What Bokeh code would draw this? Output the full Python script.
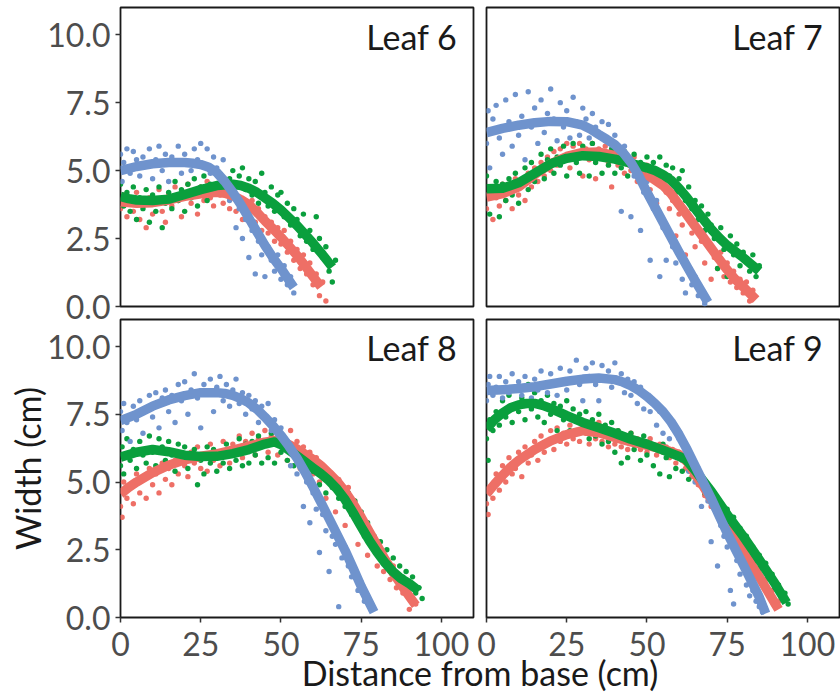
from bokeh.plotting import figure
from bokeh.layouts import column, row
from bokeh.models import FixedTicker, NumeralTickFormatter, Label, Range1d
from bokeh.embed import file_html
from bokeh.resources import INLINE

# ---------------- data ----------------
panel_names = ["Leaf 6", "Leaf 7", "Leaf 8", "Leaf 9"]
x_ticks = [0, 25, 50, 75, 100]
y_ticks = [0, 2.5, 5, 7.5, 10]
x_title = "Distance from base (cm)"
y_title = "Width (cm)"

# Leaf 6 scatter
l6_red_pts = [(0,3.6),(1,4.1),(2,3.3),(3,3.9),(4,3.5),(5,4.2),(6,3.2),(7,3.7),(8,2.9),(9,4.0),(10,3.4),(11,3.8),(12,4.3),(13,3.5),(14,3.1),(15,4.1),(16,3.7),(17,4.4),(18,3.9),(19,3.3),(20,4.2),(21,4.5),(22,3.8),(23,4.1),(24,3.4),(25,4.4),(26,3.9),(27,4.6),(28,4.0),(29,3.7),(30,4.3),(31,4.1),(32,3.8),(33,4.3),(34,3.6),(35,4.1),(36,3.5),(37,3.9),(38,3.2),(39,3.8),(40,3.4),(41,3.9),(42,3.1),(43,3.6),(44,2.8),(45,3.3),(46,2.7),(47,3.1),(48,2.4),(49,2.9),(50,2.3),(51,2.8),(52,2.0),(53,2.4),(54,1.7),(55,2.1),(56,1.4),(57,1.9),(58,1.2),(59,1.6),(60,0.8),(61,1.2),(62,0.4),(63,0.9),(64,0.2)]
l6_green_pts = [(0,4.5),(1,3.7),(2,4.2),(3,3.5),(4,4.4),(5,3.2),(6,4.0),(7,3.6),(8,4.3),(9,3.1),(10,4.1),(11,3.5),(12,4.4),(13,2.9),(14,3.8),(15,4.2),(16,3.6),(17,4.6),(18,3.9),(19,4.3),(20,3.5),(21,4.5),(22,4.0),(23,4.7),(24,3.7),(25,4.4),(26,4.8),(27,3.9),(28,4.5),(29,4.2),(30,4.9),(31,4.3),(32,4.6),(33,4.1),(34,4.7),(35,5.0),(36,4.4),(37,4.8),(38,5.1),(39,4.3),(40,4.7),(41,4.1),(42,4.6),(43,3.8),(44,4.9),(45,4.2),(46,3.7),(47,4.4),(48,3.5),(49,4.1),(50,4.2),(51,3.3),(52,3.8),(53,3.0),(54,3.6),(55,3.2),(56,2.6),(57,3.4),(58,2.4),(59,2.8),(60,2.1),(61,3.3),(62,2.5),(63,1.8),(64,2.2),(65,1.3),(66,0.9),(67,1.7)]
l6_blue_pts = [(0,5.6),(0.5,4.6),(1,5.3),(2,5.8),(3,4.9),(4,5.7),(5,5.4),(6,4.8),(7,5.5),(8,5.2),(9,5.8),(10,4.7),(11,5.4),(12,5.9),(13,5.0),(14,5.6),(15,4.6),(16,5.5),(17,5.3),(18,5.9),(19,4.9),(20,5.6),(21,5.3),(22,5.0),(23,5.8),(24,5.4),(25,6.0),(26,5.2),(27,5.8),(28,4.9),(29,5.5),(30,5.1),(31,4.4),(32,5.4),(33,4.5),(34,3.9),(35,4.4),(36,2.9),(37,3.6),(38,2.5),(39,3.2),(40,1.8),(41,2.8),(42,1.2),(43,2.4),(44,1.9),(45,1.1),(46,2.2),(47,1.7),(48,1.3),(49,1.9),(50,1.0),(51,1.5),(52,0.8),(53,1.1),(54,0.5)]
# Leaf 6 smooth fits
l6_red_fit = [(0,3.85),(5,3.8),(10,3.82),(15,3.92),(20,4.05),(25,4.15),(30,4.2),(32.5,4.17),(35,4.08),(37.5,3.93),(40,3.75),(42.5,3.47),(45,3.15),(47.5,2.86),(50,2.55),(52.5,2.22),(55,1.88),(57.5,1.5),(60,1.1),(62.5,0.72)]
l6_green_fit = [(0,4.05),(2.5,3.97),(5,3.92),(10,3.9),(15,3.95),(20,4.12),(25,4.3),(30,4.45),(35,4.5),(37.5,4.45),(40,4.35),(42.5,4.2),(45,4.0),(47.5,3.79),(50,3.55),(52.5,3.27),(55,2.98),(57.5,2.66),(60,2.33),(63,1.9),(66,1.45)]
l6_blue_fit = [(0,5.0),(5,5.15),(10,5.25),(15,5.3),(20,5.3),(22.5,5.27),(25,5.22),(27.5,5.12),(30,4.93),(32.5,4.6),(35,4.2),(37.5,3.75),(40,3.25),(42.5,2.75),(45,2.25),(47.5,1.8),(50,1.4),(52,1.05),(54,0.7)]

# Leaf 7 scatter
l7_red_pts = [(0,3.6),(1,4.3),(2,3.2),(3,4.0),(4,3.7),(5,4.5),(6,3.9),(7,4.2),(8,3.6),(9,4.7),(10,4.1),(11,4.5),(12,3.9),(13,4.9),(14,4.4),(15,5.1),(16,4.6),(17,5.3),(18,4.8),(19,5.5),(20,5.0),(21,5.7),(22,5.2),(23,5.8),(24,5.4),(25,6.0),(26,5.1),(27,5.9),(28,5.5),(29,6.0),(30,4.8),(31,5.8),(32,5.4),(33,6.0),(34,4.7),(35,5.8),(36,5.5),(37,5.9),(38,5.3),(39,4.4),(40,5.7),(41,5.2),(42,5.6),(43,4.9),(44,5.4),(45,5.0),(46,5.5),(47,4.6),(48,5.1),(49,4.7),(50,5.2),(51,4.3),(52,4.8),(53,3.8),(54,4.5),(55,3.2),(56,4.2),(57,3.6),(58,3.9),(59,2.6),(60,3.4),(61,3.0),(62,1.9),(63,3.2),(64,2.7),(65,2.2),(66,2.9),(67,2.4),(68,1.6),(69,2.3),(70,1.0),(71,1.8),(72,1.4),(73,2.0),(74,1.1),(75,1.6),(76,0.9),(77,1.3),(78,0.7),(79,1.0),(80,0.5),(81,0.9),(82,0.2),(83,0.6)]
l7_green_pts = [(0,4.8),(1,3.4),(2,4.2),(3,4.6),(4,3.3),(5,4.5),(6,3.9),(7,4.7),(8,4.1),(9,4.9),(10,3.8),(11,4.6),(12,5.1),(13,4.3),(14,5.3),(15,4.6),(16,5.0),(17,5.6),(18,4.7),(19,5.4),(20,5.8),(21,4.9),(22,5.5),(23,5.2),(24,5.9),(25,4.8),(26,5.6),(27,6.0),(28,5.3),(29,4.9),(30,5.9),(31,5.5),(32,4.8),(33,6.0),(34,5.3),(35,5.7),(36,4.9),(37,5.6),(38,5.2),(39,5.8),(40,4.9),(41,5.4),(42,5.1),(43,5.7),(44,4.8),(45,5.4),(46,5.6),(47,4.9),(48,5.3),(49,5.0),(50,5.5),(51,4.7),(52,5.3),(53,5.0),(54,5.5),(55,4.6),(56,5.2),(57,4.8),(58,5.1),(59,4.2),(60,4.7),(61,5.0),(62,3.9),(63,4.4),(64,3.6),(65,3.9),(66,3.2),(67,3.7),(68,2.8),(69,3.4),(70,3.0),(71,2.5),(72,1.4),(73,2.9),(74,2.1),(75,1.1),(76,2.6),(77,1.9),(78,2.3),(79,1.5),(80,2.0),(81,1.7),(82,1.3),(83,1.9),(84,1.1),(85,1.5)]
l7_blue_pts = [(0,6.0),(0.5,7.2),(1,5.1),(2,6.9),(3,7.4),(4,6.2),(5,5.6),(6,7.6),(7,6.8),(8,5.9),(9,7.8),(10,6.3),(11,7.0),(12,5.4),(13,7.9),(14,6.6),(15,7.3),(16,6.0),(17,7.6),(18,6.4),(19,7.1),(20,8.0),(21,6.9),(22,6.1),(23,7.5),(24,6.6),(25,7.2),(26,6.2),(27,7.7),(28,6.8),(29,6.3),(30,7.3),(31,6.9),(32,6.2),(33,7.1),(34,6.6),(35,5.7),(36,6.8),(37,6.1),(38,6.7),(39,5.5),(40,6.3),(41,5.8),(42,3.5),(43,5.9),(44,5.3),(45,3.3),(46,4.8),(47,5.2),(48,2.8),(49,4.2),(50,4.6),(51,1.7),(52,3.6),(53,3.9),(54,1.1),(55,2.9),(56,1.7),(57,2.6),(58,2.2),(59,1.6),(60,2.0),(61,1.0),(62,0.5),(63,1.3),(64,0.8),(65,1.1),(66,0.4),(67,0.6),(68,0.1)]
l7_red_fit = [(0,4.02),(5,4.15),(10,4.4),(15,4.85),(20,5.25),(25,5.52),(30,5.67),(35,5.68),(40,5.55),(45,5.25),(50,4.85),(55,4.45),(57.5,4.15),(60,3.75),(62.5,3.36),(65,2.95),(67.5,2.55),(70,2.15),(72.5,1.74),(75,1.35),(77.5,1.0),(80,0.72),(84,0.25)]
l7_green_fit = [(0,4.33),(5,4.35),(10,4.55),(15,4.9),(20,5.25),(25,5.45),(30,5.55),(35,5.52),(40,5.42),(45,5.27),(50,5.1),(52.5,5.0),(55,4.85),(57.5,4.65),(60,4.35),(62.5,4.0),(65,3.6),(67.5,3.22),(70,2.85),(72.5,2.53),(75,2.25),(80,1.8),(85,1.3)]
l7_blue_fit = [(0,6.4),(5,6.55),(10,6.67),(15,6.76),(20,6.81),(25,6.8),(30,6.67),(32.5,6.52),(35,6.33),(37.5,6.15),(40,5.95),(42.5,5.67),(45,5.3),(47.5,4.8),(50,4.2),(52.5,3.65),(55,3.1),(57.5,2.55),(60,2.0),(62.5,1.47),(65,0.95),(69,0.15)]

# Leaf 8 scatter
l8_red_pts = [(0,4.1),(0.5,3.7),(1,5.0),(2,4.4),(3,4.8),(4,4.2),(5,5.3),(6,4.6),(7,5.1),(8,4.4),(9,5.5),(10,4.9),(11,5.3),(12,4.6),(13,5.7),(14,5.1),(15,5.5),(16,4.9),(17,5.8),(18,5.3),(19,6.0),(20,5.6),(21,5.2),(22,6.1),(23,5.7),(24,6.3),(25,5.5),(26,6.0),(27,5.4),(28,6.4),(29,5.8),(30,6.1),(31,5.6),(32,6.5),(33,6.0),(34,5.7),(35,6.4),(36,6.1),(37,6.7),(38,5.9),(39,6.5),(40,6.2),(41,6.8),(42,6.0),(43,6.6),(44,6.3),(45,6.9),(46,6.1),(47,6.7),(48,6.4),(49,6.0),(50,6.7),(51,6.3),(52,5.8),(53,6.9),(54,6.0),(55,6.5),(56,5.5),(57,6.3),(58,5.7),(59,6.1),(60,5.3),(61,5.9),(62,5.0),(63,5.6),(64,4.4),(65,5.3),(66,4.9),(67,3.9),(68,5.1),(69,4.4),(70,3.4),(71,4.8),(72,3.9),(73,4.3),(74,2.7),(75,3.8),(76,3.3),(77,2.3),(78,3.0),(79,2.6),(80,1.9),(81,2.4),(82,1.7),(83,2.1),(84,1.4),(85,1.9),(86,1.1),(87,1.5),(88,0.9),(89,1.2),(90,0.3),(91,0.7),(92,0.5)]
l8_green_pts = [(0,5.6),(0.5,6.3),(1,5.3),(2,6.6),(3,5.8),(4,6.2),(5,5.5),(6,6.5),(7,6.0),(8,5.7),(9,6.7),(10,6.1),(11,5.6),(12,6.6),(13,6.3),(14,5.8),(15,6.5),(16,6.0),(17,5.4),(18,6.4),(19,5.9),(20,6.3),(21,5.5),(22,6.0),(23,6.2),(24,4.9),(25,5.8),(26,5.3),(27,6.3),(28,5.7),(29,6.2),(30,5.4),(31,6.1),(32,5.7),(33,6.4),(34,5.5),(35,6.2),(36,5.8),(37,6.6),(38,5.6),(39,6.4),(40,5.7),(41,6.5),(42,6.0),(43,6.7),(44,5.7),(45,6.5),(46,5.9),(47,6.8),(48,5.7),(49,6.6),(50,6.1),(51,6.4),(52,5.8),(53,6.3),(54,5.6),(55,6.2),(56,5.7),(57,6.0),(58,5.2),(59,5.8),(60,5.4),(61,5.7),(62,4.9),(63,5.3),(64,4.6),(65,5.2),(66,4.8),(67,5.0),(68,4.4),(69,4.8),(70,4.1),(71,4.6),(72,3.8),(73,4.3),(74,3.5),(75,3.9),(76,3.0),(77,3.5),(78,2.7),(79,3.0),(80,2.4),(81,2.8),(82,2.0),(83,2.5),(84,1.7),(85,2.2),(86,1.4),(87,1.9),(88,1.5),(89,1.7),(90,1.2),(91,1.5),(92,0.9),(93,1.1),(94,0.7)]
l8_blue_pts = [(0,7.6),(0.5,6.9),(1,7.9),(2,7.2),(3,6.5),(4,7.8),(5,7.3),(6,8.0),(7,6.8),(8,7.7),(9,8.2),(10,7.4),(11,8.3),(12,7.0),(13,8.1),(14,8.4),(15,7.6),(16,8.2),(17,7.2),(18,8.6),(19,8.0),(20,8.7),(21,7.5),(22,8.4),(23,9.0),(24,8.1),(25,7.0),(26,8.6),(27,8.3),(28,8.8),(29,7.6),(30,8.5),(31,8.9),(32,8.0),(33,8.6),(34,7.8),(35,8.4),(36,8.8),(37,7.9),(38,8.3),(39,7.5),(40,8.2),(41,7.7),(42,8.0),(43,7.2),(44,7.8),(45,7.4),(46,7.9),(47,6.9),(48,7.3),(49,6.6),(50,7.0),(51,6.3),(52,6.5),(53,5.6),(54,6.1),(55,5.3),(56,5.6),(57,4.1),(58,5.0),(59,3.5),(60,4.6),(61,4.0),(62,2.4),(63,3.8),(64,3.2),(65,1.7),(66,3.0),(67,2.7),(68,0.4),(69,2.2),(70,2.6),(71,1.9),(72,1.5),(73,1.8),(74,1.0),(75,1.3),(76,0.6),(77,0.8),(78,0.3)]
l8_red_fit = [(0,4.56),(2.5,4.8),(5,5.0),(10,5.35),(15,5.62),(20,5.82),(25,5.95),(30,6.04),(35,6.18),(40,6.33),(45,6.47),(48,6.53),(50,6.5),(52.5,6.38),(55,6.22),(57.5,6.03),(60,5.83),(62.5,5.6),(65,5.32),(67.5,5.02),(70,4.65),(72.5,4.2),(75,3.7),(77.5,3.17),(80,2.65),(82.5,2.13),(85,1.65),(87.5,1.2),(90,0.78),(92,0.45)]
l8_green_fit = [(0,5.92),(5,6.1),(10,6.2),(15,6.12),(20,5.99),(25,5.94),(30,5.95),(35,6.05),(40,6.2),(45,6.4),(48,6.48),(50,6.38),(52.5,6.18),(55,5.97),(57.5,5.75),(60,5.52),(62.5,5.3),(65,5.05),(67.5,4.74),(70,4.35),(72.5,3.87),(75,3.35),(77.5,2.85),(80,2.4),(82.5,2.01),(85,1.68),(87.5,1.43),(90,1.25),(93,0.98)]
l8_blue_fit = [(0,7.27),(5,7.5),(10,7.8),(15,8.03),(20,8.19),(25,8.3),(30,8.3),(32.5,8.27),(35,8.2),(37.5,8.08),(40,7.92),(42.5,7.69),(45,7.4),(47.5,7.08),(50,6.72),(52.5,6.32),(55,5.88),(57.5,5.37),(60,4.82),(62.5,4.24),(65,3.65),(67.5,3.06),(70,2.47),(72.5,1.82),(75,1.15),(79,0.2)]

# Leaf 9 scatter
l9_red_pts = [(0,4.2),(0.5,3.8),(1,4.8),(2,4.4),(3,5.3),(4,4.7),(5,5.6),(6,5.0),(7,5.9),(8,5.3),(9,5.5),(10,6.1),(11,5.2),(12,6.3),(13,5.7),(14,6.0),(15,6.5),(16,5.8),(17,6.7),(18,6.1),(19,6.4),(20,6.9),(21,6.2),(22,7.0),(23,6.5),(24,6.8),(25,6.4),(26,7.1),(27,6.6),(28,6.9),(29,6.5),(30,7.2),(31,6.8),(32,6.4),(33,7.0),(34,6.6),(35,7.2),(36,6.5),(37,6.9),(38,6.3),(39,6.8),(40,6.4),(41,6.9),(42,6.3),(43,6.7),(44,6.2),(45,6.8),(46,6.4),(47,6.6),(48,6.2),(49,6.5),(50,6.1),(51,6.6),(52,6.3),(53,6.0),(54,6.4),(55,6.1),(56,6.3),(57,5.9),(58,6.2),(59,5.7),(60,6.1),(61,5.8),(62,5.5),(63,5.9),(64,5.2),(65,5.5),(66,4.9),(67,5.1),(68,4.5),(69,4.8),(70,4.1),(71,4.4),(72,3.8),(73,4.0),(74,3.4),(75,3.7),(76,3.1),(77,3.3),(78,2.7),(79,2.9),(80,2.3),(81,2.5),(82,1.9),(83,2.2),(84,1.6),(85,1.8),(86,1.3),(87,1.4),(88,0.9),(89,1.0),(90,0.5),(91,0.6)]
l9_green_pts = [(0,6.6),(0.5,5.8),(1,7.3),(2,6.9),(3,7.6),(4,7.1),(5,8.0),(6,7.4),(7,8.2),(8,7.2),(9,8.4),(10,7.6),(11,8.1),(12,7.3),(13,8.6),(14,7.7),(15,8.3),(16,7.4),(17,8.0),(18,7.2),(19,8.2),(20,7.5),(21,7.9),(22,6.9),(23,7.8),(24,7.3),(25,8.0),(26,6.9),(27,7.7),(28,6.8),(29,7.5),(30,7.0),(31,7.6),(32,6.6),(33,7.3),(34,6.7),(35,7.5),(36,6.4),(37,7.1),(38,6.5),(39,7.2),(40,6.1),(41,6.9),(42,5.7),(43,6.6),(44,5.9),(45,6.8),(46,6.2),(47,6.5),(48,5.8),(49,6.7),(50,6.0),(51,6.4),(52,5.6),(53,6.2),(54,5.3),(55,6.4),(56,5.9),(57,5.2),(58,6.1),(59,5.5),(60,6.0),(61,5.4),(62,5.8),(63,5.1),(64,5.5),(65,5.7),(66,5.0),(67,5.2),(68,4.6),(69,4.9),(70,4.3),(71,4.6),(72,4.0),(73,4.2),(74,3.8),(75,4.0),(76,3.5),(77,3.7),(78,3.1),(79,3.3),(80,2.8),(81,3.0),(82,2.6),(83,2.6),(84,2.1),(85,2.3),(86,1.8),(87,2.0),(88,1.5),(89,1.6),(90,1.1),(91,1.2),(92,0.8),(93,0.9),(94,0.5)]
l9_blue_pts = [(0,8.0),(0.5,8.6),(1,8.9),(2,8.2),(3,8.5),(4,8.9),(5,8.1),(6,8.7),(7,8.3),(8,9.0),(9,8.4),(10,8.7),(11,8.2),(12,8.9),(13,8.5),(14,8.1),(15,8.8),(16,8.4),(17,9.1),(18,8.6),(19,8.3),(20,9.0),(21,8.6),(22,8.2),(23,9.2),(24,8.7),(25,8.4),(26,9.1),(27,8.8),(28,9.5),(29,8.6),(30,8.0),(31,9.2),(32,8.9),(33,9.4),(34,8.6),(35,8.0),(36,9.3),(37,8.8),(38,9.1),(39,8.5),(40,9.4),(41,8.7),(42,9.0),(43,8.3),(44,8.8),(45,8.2),(46,8.7),(47,7.9),(48,8.5),(49,7.7),(50,8.2),(51,7.6),(52,7.9),(53,7.1),(54,7.6),(55,6.8),(56,7.4),(57,6.6),(58,7.0),(59,6.1),(60,6.6),(61,5.8),(62,6.3),(63,5.4),(64,5.9),(65,5.0),(66,5.5),(67,4.1),(68,5.0),(69,4.3),(70,2.8),(71,4.0),(72,1.9),(73,3.4),(74,3.0),(75,2.6),(76,1.0),(77,0.5),(78,2.1),(79,1.6),(80,1.9),(81,1.2),(82,0.8),(83,1.0),(84,0.6),(85,0.4),(86,0.2)]
l9_red_fit = [(0,4.56),(2.5,4.92),(5,5.25),(7.5,5.55),(10,5.8),(15,6.2),(20,6.52),(25,6.75),(30,6.9),(35,6.82),(40,6.65),(45,6.48),(50,6.35),(55,6.22),(60,6.02),(62.5,5.75),(65,5.3),(67.5,4.85),(70,4.37),(75,3.4),(80,2.4),(85,1.5),(90,0.5),(91,0.3)]
l9_green_fit = [(0,6.96),(2.5,7.3),(5,7.55),(7.5,7.74),(10,7.85),(12.5,7.9),(15,7.9),(17.5,7.83),(20,7.72),(25,7.45),(30,7.2),(35,7.0),(40,6.8),(45,6.58),(50,6.4),(55,6.18),(60,5.95),(62,5.85),(65,5.43),(70,4.66),(75,3.8),(80,3.0),(85,2.13),(90,1.23),(93.5,0.55)]
l9_blue_fit = [(0,8.38),(5,8.41),(10,8.45),(15,8.52),(20,8.62),(25,8.72),(30,8.8),(35,8.84),(40,8.78),(42.5,8.69),(45,8.56),(47.5,8.38),(50,8.16),(52.5,7.9),(55,7.6),(57.5,7.22),(60,6.75),(62.5,6.2),(65,5.6),(67.5,5.0),(70,4.4),(72.5,3.76),(75,3.12),(77.5,2.53),(80,1.95),(82.5,1.35),(85,0.75),(87,0.15)]

# ---------------- styling ----------------
FONT = "Lato"
RED, GREEN, BLUE = "#EE6F66", "#0A9F3D", "#6F93CD"
TICK_COLOR = "#4D4D4D"
TEXT_COLOR = "#1A1A1A"


def xs(pts):
    return [p[0] for p in pts]


def ys(pts):
    return [p[1] for p in pts]


def make_panel(name, pts, fits, left, bottom, mb):
    p = figure(frame_width=353, frame_height=299 if not bottom else 298,
               x_range=Range1d(0, 110), y_range=Range1d(0, 11),
               x_axis_location="below" if bottom else None,
               y_axis_location="left" if left else None,
               output_backend="svg", toolbar_location=None,
               min_border_left=mb[0], min_border_right=mb[1],
               min_border_top=mb[2], min_border_bottom=mb[3],
               background_fill_color="white", border_fill_alpha=0)
    p.outline_line_color = "#1A1A1A"
    p.outline_line_width = 1.8
    for g in p.grid:
        g.visible = False
    for pt, col in zip(pts, [RED, GREEN, BLUE]):
        p.scatter(xs(pt), ys(pt), size=5.4, fill_color=col, line_color=None)
    for ft, col in zip(fits, [RED, GREEN, BLUE]):
        p.line(xs(ft), ys(ft), line_width=9.5, line_color=col, line_cap="butt", line_join="round")
    p.add_layout(Label(x=105.0, y=9.95, text=name, text_align="right", text_baseline="middle",
                       text_font=FONT, text_font_size="34px", text_color=TEXT_COLOR))
    axes = []
    if left:
        ax = p.yaxis[0]
        ax.ticker = FixedTicker(ticks=y_ticks)
        ax.formatter = NumeralTickFormatter(format="0.0")
        ax.major_label_standoff = 5
        axes.append(ax)
    if bottom:
        ax = p.xaxis[0]
        ax.ticker = FixedTicker(ticks=x_ticks)
        ax.formatter = NumeralTickFormatter(format="0")
        ax.major_label_standoff = 9
        axes.append(ax)
    for ax in axes:
        ax.axis_line_color = None
        ax.major_tick_in = 0
        ax.major_tick_out = 5
        ax.major_tick_line_color = "#333333"
        ax.major_tick_line_width = 1.5
        ax.minor_tick_line_color = None
        ax.major_label_text_font = FONT
        ax.major_label_text_font_size = "32px"
        ax.major_label_text_color = TICK_COLOR
        ax.axis_label_text_font = FONT
        ax.axis_label_text_font_size = "34px"
        ax.axis_label_text_font_style = "normal"
        ax.axis_label_text_color = TEXT_COLOR
    return p


p6 = make_panel(panel_names[0], [l6_red_pts, l6_green_pts, l6_blue_pts],
                [l6_red_fit, l6_green_fit, l6_blue_fit], True, False, (120, 2, 7, 30))
p7 = make_panel(panel_names[1], [l7_red_pts, l7_green_pts, l7_blue_pts],
                [l7_red_fit, l7_green_fit, l7_blue_fit], False, False, (11, 1, 7, 30))
p8 = make_panel(panel_names[2], [l8_red_pts, l8_green_pts, l8_blue_pts],
                [l8_red_fit, l8_green_fit, l8_blue_fit], True, True, (120, 2, 2, 55))
p9 = make_panel(panel_names[3], [l9_red_pts, l9_green_pts, l9_blue_pts],
                [l9_red_fit, l9_green_fit, l9_blue_fit], False, True, (11, 1, 2, 55))
p8.yaxis[0].axis_label = y_title
p8.yaxis[0].axis_label_standoff = -4

# shared x-axis title spanning both bottom panels
pt = figure(frame_width=719, frame_height=41, min_border_left=120, min_border_right=1,
            min_border_top=0, min_border_bottom=0,
            x_range=Range1d(0, 1), y_range=Range1d(0, 1),
            x_axis_location=None, y_axis_location=None,
            output_backend="svg", toolbar_location=None,
            background_fill_alpha=0, border_fill_alpha=0, outline_line_color=None,
            margin=(-21, 0, 0, 0))
for g in pt.grid:
    g.visible = False
pt.add_layout(Label(x=0.5, y=0.5, text=x_title, text_align="center", text_baseline="middle",
                    text_font=FONT, text_font_size="34px", text_color=TEXT_COLOR))

top_row = row(p6, p7)
bottom_row = row(p8, p9, margin=(-19, 0, 0, 0))
layout = column(top_row, bottom_row, pt)
open("out.html", "w").write(file_html(layout, INLINE))
